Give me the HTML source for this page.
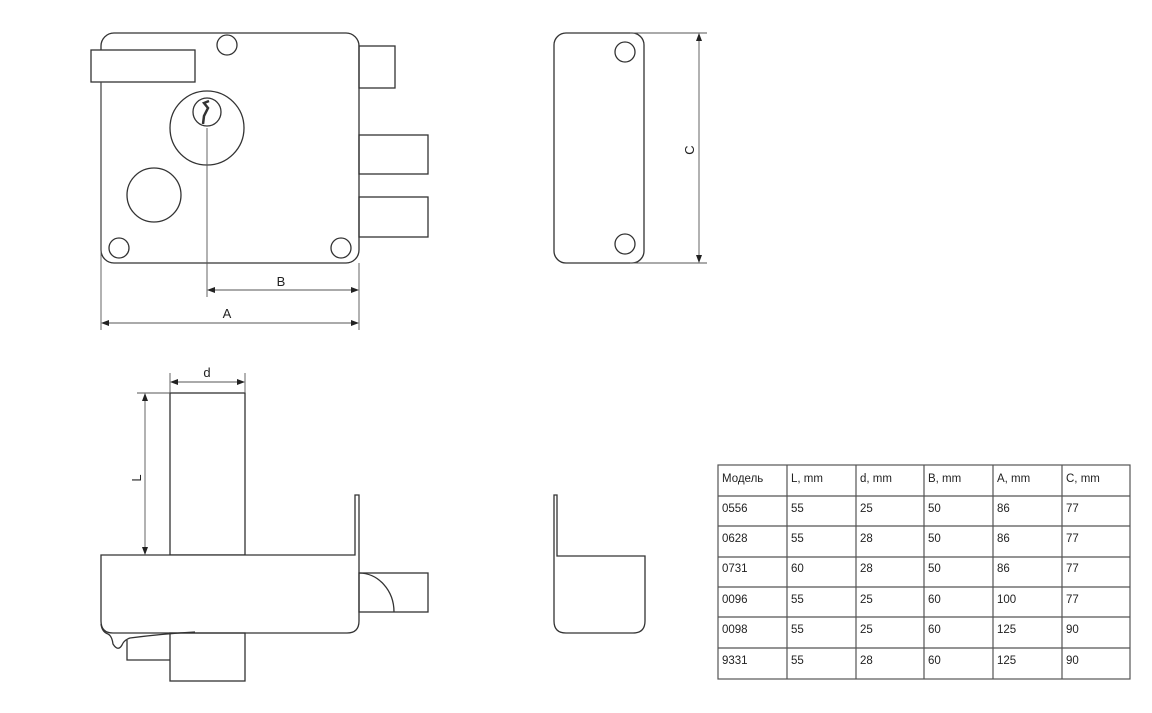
<!DOCTYPE html>
<html><head><meta charset="utf-8"><style>
html,body{margin:0;padding:0;background:#fff;}
svg{display:block;}
text{font-family:"Liberation Sans",sans-serif;fill:#222;}
</style></head><body>
<svg width="1152" height="713" viewBox="0 0 1152 713" xmlns="http://www.w3.org/2000/svg">
<g fill="none" stroke="#333" stroke-width="1.3">
<rect x="101" y="33" width="258" height="230" rx="13"/>
<rect x="91" y="50" width="104" height="32" fill="#fff"/>
<circle cx="227" cy="45" r="10"/>
<circle cx="207" cy="128" r="37"/>
<circle cx="207" cy="112" r="14"/>
<path d="M209,101 L204,103 L208,108 L204,116 L203,124" stroke-width="2.5"/>
<circle cx="154" cy="195" r="27"/>
<circle cx="119" cy="248" r="10"/>
<circle cx="341" cy="248" r="10"/>
<rect x="359" y="46" width="36" height="42"/>
<rect x="359" y="135" width="69" height="39"/>
<rect x="359" y="197" width="69" height="40"/>
</g>
<g fill="none" stroke="#555" stroke-width="0.9">
<line x1="207" y1="128" x2="207" y2="297"/>
<line x1="101" y1="82" x2="101" y2="330"/>
<line x1="359" y1="263" x2="359" y2="330"/>
<line x1="209" y1="290" x2="357" y2="290"/>
<line x1="103" y1="323" x2="357" y2="323"/>
</g>
<path d="M207,290 l8,-3 v6z M359,290 l-8,-3 v6z M101,323 l8,-3 v6z M359,323 l-8,-3 v6z" fill="#222"/>
<text x="281" y="286" font-size="13" text-anchor="middle">B</text>
<text x="227" y="318" font-size="13" text-anchor="middle">A</text>

<g fill="none" stroke="#333" stroke-width="1.3">
<rect x="554" y="33" width="90" height="230" rx="12"/>
<circle cx="625" cy="52" r="10"/>
<circle cx="625" cy="244" r="10"/>
</g>
<g stroke="#555" stroke-width="0.9">
<line x1="630" y1="33" x2="707" y2="33"/>
<line x1="630" y1="263" x2="707" y2="263"/>
<line x1="699" y1="35" x2="699" y2="261"/>
</g>
<path d="M699,33 l-3,8 h6z M699,263 l-3,-8 h6z" fill="#222"/>
<text x="0" y="0" font-size="13" text-anchor="middle" transform="translate(694,150) rotate(-90)">C</text>

<g fill="none" stroke="#333" stroke-width="1.3">
<rect x="170" y="393" width="75" height="162"/>
<path d="M101,555 H355 V495 H359 V621 Q359,633 347,633 H113 Q101,633 101,621 Z" fill="#fff"/>
<rect x="359" y="573" width="69" height="39"/>
<path d="M359,573 A35,39 0 0 1 394,612"/>
<rect x="170" y="633" width="75" height="48"/>
<path d="M127,640 V660 H170"/>
<path d="M101,624 Q102,632 108,634 Q112,636 113,644 Q118,652 122,645 Q124,640 130,638 Q160,634 195,632"/>
</g>
<g fill="none" stroke="#555" stroke-width="0.9">
<line x1="170" y1="373" x2="170" y2="393"/>
<line x1="245" y1="373" x2="245" y2="393"/>
<line x1="172" y1="382" x2="243" y2="382"/>
<line x1="137" y1="393" x2="170" y2="393"/>
<line x1="145" y1="395" x2="145" y2="553"/>
</g>
<path d="M170,382 l8,-3 v6z M245,382 l-8,-3 v6z M145,393 l-3,8 h6z M145,555 l-3,-8 h6z" fill="#222"/>
<text x="207" y="377" font-size="13" text-anchor="middle">d</text>
<text x="0" y="0" font-size="13" text-anchor="middle" transform="translate(141,478) rotate(-90)">L</text>

<path d="M554,495 H557 V556 H645 V621 Q645,633 633,633 H566 Q554,633 554,621 Z" fill="none" stroke="#333" stroke-width="1.3"/>

<g stroke="#555" stroke-width="1.2" fill="none">
<rect x="718" y="465" width="412" height="214"/>
<line x1="718" y1="496" x2="1130" y2="496"/>
<line x1="718" y1="526" x2="1130" y2="526"/>
<line x1="718" y1="557" x2="1130" y2="557"/>
<line x1="718" y1="587" x2="1130" y2="587"/>
<line x1="718" y1="617" x2="1130" y2="617"/>
<line x1="718" y1="648" x2="1130" y2="648"/>
<line x1="787" y1="465" x2="787" y2="679"/>
<line x1="856" y1="465" x2="856" y2="679"/>
<line x1="924" y1="465" x2="924" y2="679"/>
<line x1="993" y1="465" x2="993" y2="679"/>
<line x1="1062" y1="465" x2="1062" y2="679"/>
</g>
<g font-size="11.5" font-family="Liberation Sans, sans-serif">
<text x="722" y="482">Модель</text><text x="791" y="482">L, mm</text><text x="860" y="482">d, mm</text><text x="928" y="482">B, mm</text><text x="997" y="482">A, mm</text><text x="1066" y="482">C, mm</text>
<text x="722" y="512">0556</text><text x="791" y="512">55</text><text x="860" y="512">25</text><text x="928" y="512">50</text><text x="997" y="512">86</text><text x="1066" y="512">77</text>
<text x="722" y="542">0628</text><text x="791" y="542">55</text><text x="860" y="542">28</text><text x="928" y="542">50</text><text x="997" y="542">86</text><text x="1066" y="542">77</text>
<text x="722" y="572">0731</text><text x="791" y="572">60</text><text x="860" y="572">28</text><text x="928" y="572">50</text><text x="997" y="572">86</text><text x="1066" y="572">77</text>
<text x="722" y="603">0096</text><text x="791" y="603">55</text><text x="860" y="603">25</text><text x="928" y="603">60</text><text x="997" y="603">100</text><text x="1066" y="603">77</text>
<text x="722" y="633">0098</text><text x="791" y="633">55</text><text x="860" y="633">25</text><text x="928" y="633">60</text><text x="997" y="633">125</text><text x="1066" y="633">90</text>
<text x="722" y="664">9331</text><text x="791" y="664">55</text><text x="860" y="664">28</text><text x="928" y="664">60</text><text x="997" y="664">125</text><text x="1066" y="664">90</text>
</g>
</svg>
</body></html>
